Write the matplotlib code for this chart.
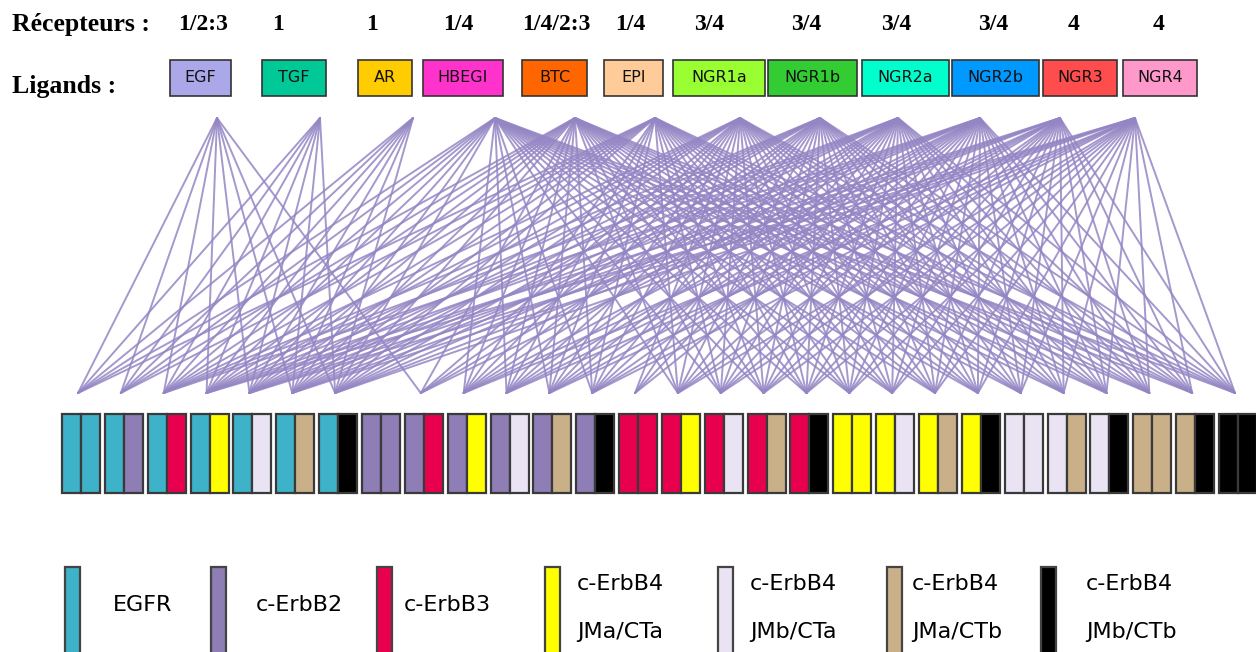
import itertools
import matplotlib
matplotlib.use("Agg")
import matplotlib.pyplot as plt
from matplotlib.patches import Rectangle

# ligands and the receptor combinations they bind
ligands = ["EGF", "TGF", "AR", "HBEGI", "BTC", "EPI",
           "NGR1a", "NGR1b", "NGR2a", "NGR2b", "NGR3", "NGR4"]
receptor_labels = ["1/2:3", "1", "1", "1/4", "1/4/2:3", "1/4",
                   "3/4", "3/4", "3/4", "3/4", "4", "4"]
ligand_colors = ["#aaa8e8", "#00c896", "#ffcc00", "#ff33cc", "#ff6600", "#ffcc99",
                 "#99ff33", "#33cc33", "#00ffcc", "#0099ff", "#ff4d4d", "#ff99cc"]

# receptors (family number used in the labels above)
receptors = ["EGFR", "c-ErbB2", "c-ErbB3", "c-ErbB4\nJMa/CTa",
             "c-ErbB4\nJMb/CTa", "c-ErbB4\nJMa/CTb", "c-ErbB4\nJMb/CTb"]
receptor_family = [1, 2, 3, 4, 4, 4, 4]
receptor_colors = ["#3eb2c8", "#8f7db5", "#e8004f", "#ffff00",
                   "#e9e3f3", "#c9b089", "#000000"]

# every dimer of two receptors
dimers = list(itertools.combinations_with_replacement(range(len(receptors)), 2))

# layout (pixels)
box_left = [170, 262, 358, 423, 522, 604, 673, 768, 862, 952, 1043, 1123]
box_right = [231, 326, 412, 503, 587, 663, 765, 857, 949, 1039, 1117, 1197]
peak_x = [217, 320, 413, 495, 575, 655, 740, 820, 898, 980, 1060, 1135]
recep_x = [203, 278, 372, 458, 556, 630, 709, 806, 896, 993, 1074, 1159]
leg_bar_x = [65, 211, 377, 545, 718, 887, 1041]
leg_text_x = [113, 256, 404, 577, 750, 912, 1086]


def binds(label, dimer):
    fams = sorted(receptor_family[r] for r in dimer)
    for grp in label.split("/"):
        if ":" in grp:
            a, b = sorted(int(v) for v in grp.split(":"))
            if fams == [a, b]:
                return True
        elif int(grp) in fams:
            return True
    return False


fig = plt.figure(figsize=(12.56, 6.52), dpi=100)
ax = fig.add_axes([0, 0, 1, 1])
ax.set_xlim(0, 1256)
ax.set_ylim(652, 0)
ax.axis("off")

# header
ax.text(12, 24, "Récepteurs :", family="Liberation Serif", weight="bold",
        fontsize=18.5, va="center", ha="left")
ax.text(12, 86, "Ligands :", family="Liberation Serif", weight="bold",
        fontsize=18.5, va="center", ha="left")
for i, lig in enumerate(ligands):
    ax.text(recep_x[i], 24, receptor_labels[i], family="Liberation Serif",
            weight="bold", fontsize=17, va="center", ha="center")
    w = box_right[i] - box_left[i]
    ax.add_patch(Rectangle((box_left[i], 60), w, 36, facecolor=ligand_colors[i],
                           edgecolor="#333333", lw=1.2))
    ax.text(box_left[i] + w / 2, 78, lig, fontsize=11.5, va="center", ha="center",
            color="#111111")

# dimer bars
pitch = (1219 - 62) / 27
half = 19
dimer_end = []
for j, (a, b) in enumerate(dimers):
    x0 = 62 + j * pitch
    for k, r in enumerate((a, b)):
        ax.add_patch(Rectangle((x0 + k * half, 414), half, 79,
                               facecolor=receptor_colors[r], edgecolor="#3a3a3a",
                               lw=1.6, zorder=3))
    dimer_end.append(x0 + 16)

# binding lines
for i, lab in enumerate(receptor_labels):
    for j, d in enumerate(dimers):
        if binds(lab, d):
            ax.plot([peak_x[i], dimer_end[j]], [118, 393], color="#9486c4",
                    lw=1.4, alpha=0.85, zorder=2, solid_capstyle="round")

# legend
for i, name in enumerate(receptors):
    ax.add_patch(Rectangle((leg_bar_x[i], 567), 15, 100, facecolor=receptor_colors[i],
                           edgecolor="#444444", lw=1.6, clip_on=True))
    if "\n" in name:
        l1, l2 = name.split("\n")
        ax.text(leg_text_x[i], 584, l1, fontsize=16, va="center", ha="left")
        ax.text(leg_text_x[i], 632, l2, fontsize=16, va="center", ha="left")
    else:
        ax.text(leg_text_x[i], 605, name, fontsize=16, va="center", ha="left")

fig.savefig("out.png", dpi=100, facecolor="white")
